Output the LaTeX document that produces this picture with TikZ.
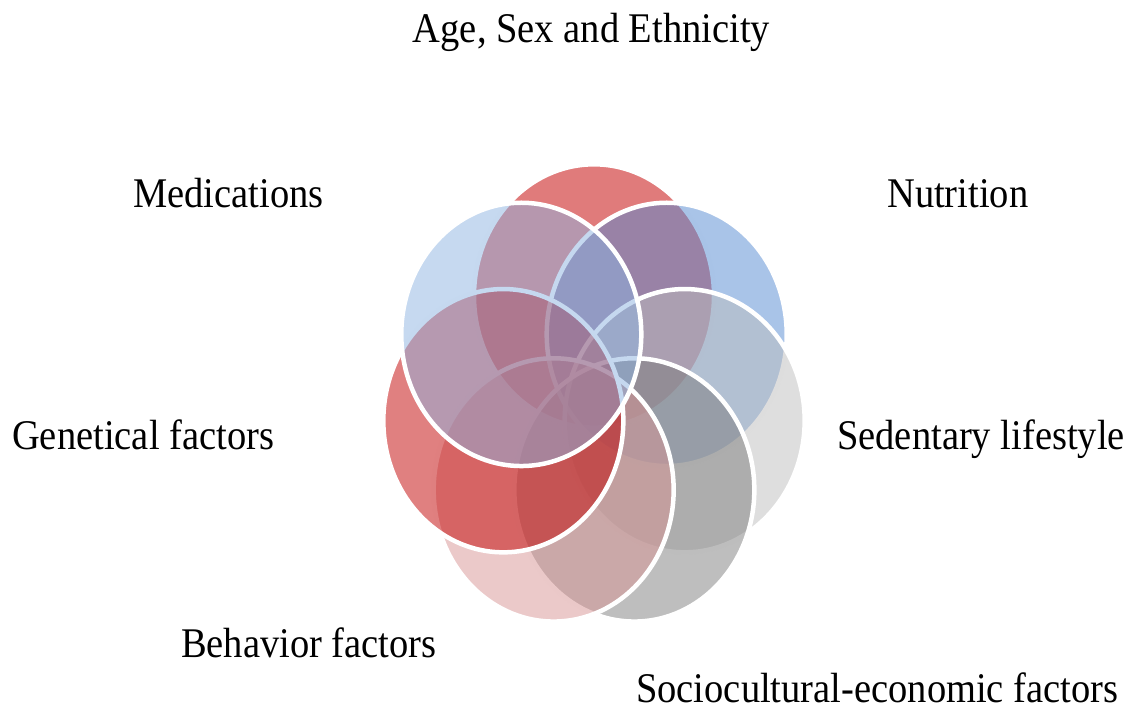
\documentclass[tikz,border=0pt]{standalone}
\usepackage{fontspec}
\setmainfont{Liberation Serif}
\definecolor{cAge}{RGB}{224,123,123}
\definecolor{cNut}{RGB}{83,137,209}
\definecolor{cSed}{RGB}{189,189,189}
\definecolor{cSoc}{RGB}{125,125,125}
\definecolor{cBeh}{RGB}{215,147,147}
\definecolor{cGen}{RGB}{193,1,1}
\definecolor{cMed}{RGB}{141,179,225}
\begin{document}
\begin{tikzpicture}[x=1pt,y=1pt,
  ring/.style={draw=white, line width=4.5pt, fill opacity=0.5},
  lbl/.style={inner sep=0pt, anchor=base west, font=\fontsize{38.5}{46}\selectfont}]
\useasboundingbox (0,0) rectangle (1128,708);
\begin{scope}[shift={(594,310)}, yscale=1.097]
  \draw[ring, fill=cAge, fill opacity=1] (90:93) circle (120);
  \draw[ring, fill=cNut] (38.57:93) circle (120);
  \draw[ring, fill=cSed] (-12.86:93) circle (120);
  \draw[ring, fill=cSoc] (-64.29:93) circle (120);
  \draw[ring, fill=cBeh] (-115.71:93) circle (120);
  \draw[ring, fill=cGen] (-167.14:93) circle (120);
  \draw[ring, fill=cMed] (141.43:93) circle (120);
\end{scope}
\node[lbl, anchor=base] (age) at (591.5,665) {\scalebox{1}[1.097]{Age, Sex and Ethnicity}};
\node[lbl] (med) at (133,500) {\scalebox{1}[1.097]{Medications}};
\node[lbl] (nut) at (887,500) {\scalebox{1}[1.097]{Nutrition}};
\node[lbl] (gen) at (12,258) {\scalebox{1}[1.097]{Genetical factors}};
\node[lbl] (sed) at (837,258) {\scalebox{1}[1.097]{Sedentary lifestyle}};
\node[lbl] (beh) at (181,50) {\scalebox{1}[1.097]{Behavior factors}};
\node[lbl] (soc) at (636,5) {\scalebox{1}[1.097]{Sociocultural-economic factors}};
\end{tikzpicture}
\end{document}
